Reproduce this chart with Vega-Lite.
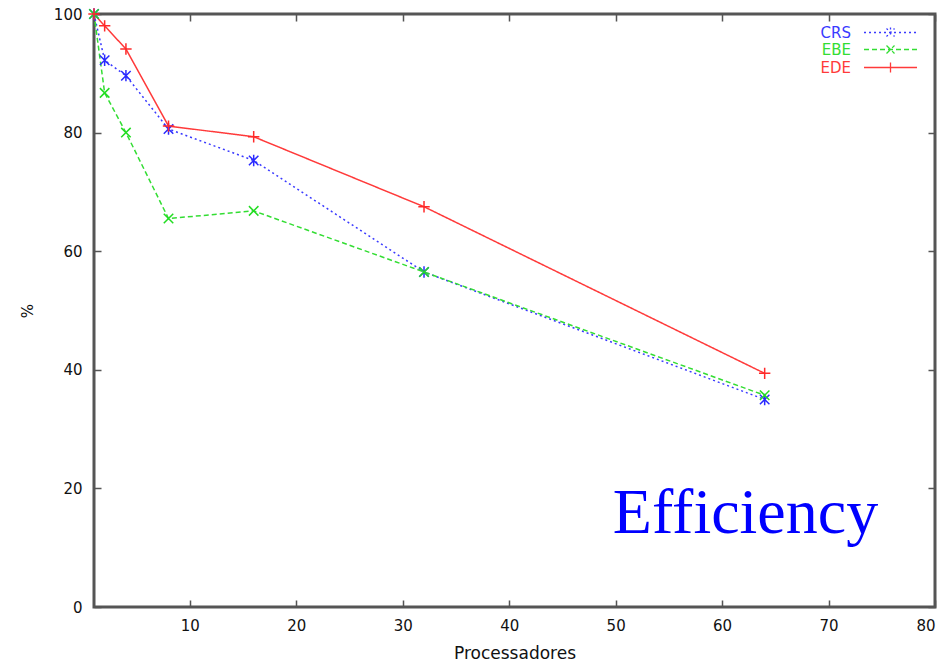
{
  "$schema": "https://vega.github.io/schema/vega-lite/v6.json",
  "width": 841,
  "height": 593,
  "autosize": "none",
  "padding": {"left": 94, "top": 14, "right": 9, "bottom": 57},
  "background": "white",
  "config": {
    "view": {"stroke": "#555555", "strokeWidth": 3},
    "font": "DejaVu Sans",
    "axis": {"domain": false, "ticks": false, "tickSize": 0, "labelFont": "DejaVu Sans", "titleFont": "DejaVu Sans", "labelColor": "#111", "titleColor": "#111", "grid": true, "gridColor": "#555555", "gridWidth": 1.5, "gridOpacity": 1}
  },
  "data": {
    "values": [
      {"series": "CRS", "p": 1, "e": 100},
      {"series": "CRS", "p": 2, "e": 92.2},
      {"series": "CRS", "p": 4, "e": 89.6},
      {"series": "CRS", "p": 8, "e": 80.6},
      {"series": "CRS", "p": 16, "e": 75.3},
      {"series": "CRS", "p": 32, "e": 56.5},
      {"series": "CRS", "p": 64, "e": 35.0},
      {"series": "EBE", "p": 1, "e": 100},
      {"series": "EBE", "p": 2, "e": 86.7},
      {"series": "EBE", "p": 4, "e": 80.0},
      {"series": "EBE", "p": 8, "e": 65.5},
      {"series": "EBE", "p": 16, "e": 66.8},
      {"series": "EBE", "p": 32, "e": 56.5},
      {"series": "EBE", "p": 64, "e": 35.7},
      {"series": "EDE", "p": 1, "e": 100},
      {"series": "EDE", "p": 2, "e": 98.0},
      {"series": "EDE", "p": 4, "e": 94.1},
      {"series": "EDE", "p": 8, "e": 81.1},
      {"series": "EDE", "p": 16, "e": 79.3},
      {"series": "EDE", "p": 32, "e": 67.5},
      {"series": "EDE", "p": 64, "e": 39.4}
    ]
  },
  "layer": [
    {
      "mark": {"type": "line", "strokeWidth": 1.5},
      "encoding": {
        "x": {"field": "p", "type": "quantitative", "scale": {"domain": [1, 80], "nice": false, "zero": false},
          "axis": {"values": [10, 20, 30, 40, 50, 60, 70, 80], "gridDash": [7, 579, 7, 2000], "labelPadding": 11, "labelFontSize": 15, "title": "Processadores", "titleFontSize": 17, "titleFontWeight": "normal", "titlePadding": 12}},
        "y": {"field": "e", "type": "quantitative", "scale": {"domain": [0, 100], "nice": false},
          "axis": {"values": [0, 20, 40, 60, 80, 100], "gridDash": [7, 827, 7, 2000], "labelPadding": 12, "labelFontSize": 15, "title": "%", "titleFontSize": 15, "titleFontWeight": "normal", "titlePadding": 18}},
        "color": {"field": "series", "type": "nominal",
          "scale": {"domain": ["CRS", "EBE", "EDE"], "range": ["#3a3aff", "#33dd33", "#ff3a3a"]},
          "legend": {"title": null, "orient": "none", "legendX": 789, "legendY": 11, "symbolSize": 100, "symbolStrokeWidth": 1.3,
            "symbolType": {"expr": "datum.value === 'CRS' ? 'M-5.3,0L5.3,0M-0.8,-0.8L0.8,0.8M-0.8,0.8L0.8,-0.8M0,-1L0,1' : datum.value === 'EBE' ? 'M-5.3,0L5.3,0M-0.8,-0.8L0.8,0.8M-0.8,0.8L0.8,-0.8' : 'M-5.3,0L5.3,0M0,-1L0,1'"},
            "labelAlign": "right", "labelOffset": -47, "labelFontSize": 15, "labelFont": "DejaVu Sans", "rowPadding": 1, "padding": 0,
            "encode": {"labels": {"update": {"fill": {"scale": "color", "field": "value"}}}}}},
        "strokeDash": {"field": "series", "type": "nominal",
          "scale": {"domain": ["CRS", "EBE", "EDE"], "range": [[2, 3], [5, 3], [1, 0]]}}
      }
    },
    {
      "transform": [{"filter": "datum.series === 'CRS'"}],
      "mark": {"type": "point", "filled": false, "strokeWidth": 1.5, "size": 90, "opacity": 1, "color": "#2a2aff", "shape": "M-1,-1L1,1M-1,1L1,-1M0,-1.2L0,1.2"},
      "encoding": {
        "x": {"field": "p", "type": "quantitative"},
        "y": {"field": "e", "type": "quantitative"}
      }
    },
    {
      "transform": [{"filter": "datum.series === 'EBE'"}],
      "mark": {"type": "point", "filled": false, "strokeWidth": 1.5, "size": 90, "opacity": 1, "color": "#22dd22", "shape": "M-1,-1L1,1M-1,1L1,-1"},
      "encoding": {
        "x": {"field": "p", "type": "quantitative"},
        "y": {"field": "e", "type": "quantitative"}
      }
    },
    {
      "transform": [{"filter": "datum.series === 'EDE'"}],
      "mark": {"type": "point", "filled": false, "strokeWidth": 1.5, "size": 90, "opacity": 1, "color": "#ff2a2a", "shape": "M-1.2,0L1.2,0M0,-1.2L0,1.2"},
      "encoding": {
        "x": {"field": "p", "type": "quantitative"},
        "y": {"field": "e", "type": "quantitative"}
      }
    },
    {
      "data": {"values": [{"label": "Efficiency"}]},
      "mark": {"type": "text", "font": "Liberation Serif", "fontSize": 64, "color": "#0000ff", "align": "center", "baseline": "alphabetic"},
      "encoding": {
        "x": {"datum": 62.2, "type": "quantitative"},
        "y": {"datum": 12.5, "type": "quantitative"},
        "text": {"field": "label"}
      }
    }
  ]
}
